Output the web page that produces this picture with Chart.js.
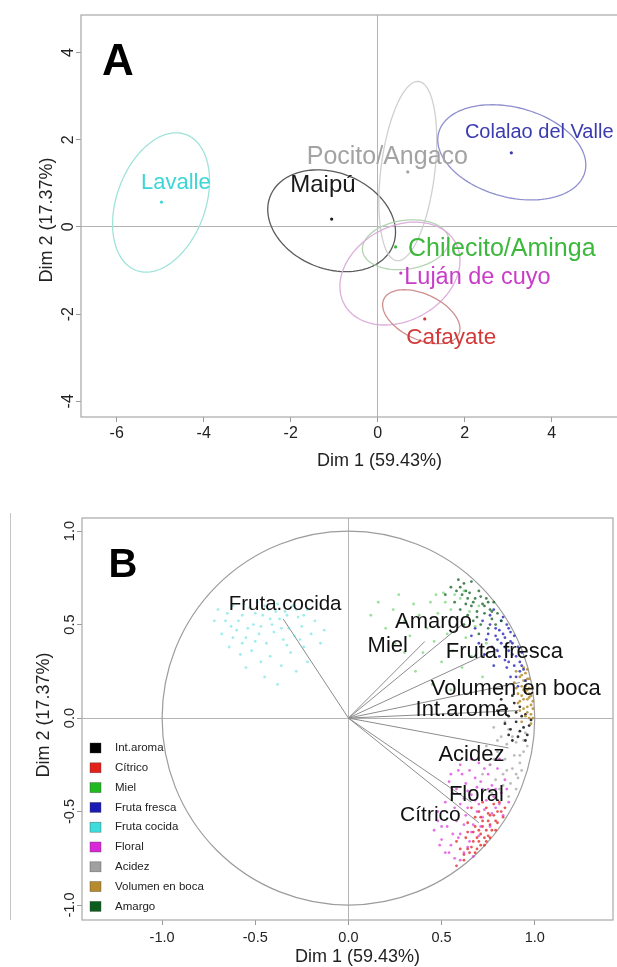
<!DOCTYPE html>
<html>
<head>
<meta charset="utf-8">
<script src="https://cdn.jsdelivr.net/npm/chart.js@4.4.0/dist/chart.umd.min.js"></script>
<style>
  html, body { margin: 0; padding: 0; background: #ffffff; width: 617px; height: 967px; overflow: hidden; }
  #ca { position: absolute; left: 0; top: 0; }
  #cb { position: absolute; left: 0; top: 480px; }
</style>
</head>
<body>
<canvas id="ca" width="700" height="480"></canvas>
<canvas id="cb" width="617" height="487"></canvas>
<script>
// ---------- Panel A: individuals (group means with confidence ellipses) ----------
const groups      = ['Lavalle', 'Maipú', 'Pocito/Angaco', 'Colalao del Valle', 'Chilecito/Aminga', 'Luján de cuyo', 'Cafayate'];
const groupX      = [-4.97, -1.06, 0.69, 3.07, 0.41, 0.53, 1.08];
const groupY      = [0.57, 0.18, 1.26, 1.70, -0.46, -1.06, -2.11];
// ellipse centre, semi-axes and tilt (degrees)
const ellCX       = [-4.98, -1.06, 0.69, 3.08, 0.64, 0.51, 1.00];
const ellCY       = [0.56, 0.14, 1.28, 1.71, -0.41, -1.07, -2.06];
const ellA        = [1.66, 1.52, 2.07, 1.74, 1.00, 1.46, 0.95];
const ellB        = [1.02, 1.10, 0.62, 1.03, 0.56, 1.08, 0.52];
const ellAngle    = [70, -22, 83, -15, 8, 29, -25];
// text anchor of each group name (centre of the word)
const groupLabelX = [-4.64, -1.26, 0.22, 3.71, 2.85, 2.29, 1.69];
const groupLabelY = [1.06, 0.99, 1.65, 2.20, -0.46, -1.12, -2.51];
const groupLabelSize = [22, 24, 25, 20, 25, 23.5, 22.5];
const groupColors   = ['#3dd6d6', '#1a1a1a', '#a3a3a3', '#3b3bb0', '#3cb83c', '#c83cc8', '#d23a3a'];
const ellipseColors = ['#9fe3da', '#5a5a5a', '#d0d0d0', '#8f8fcf', '#b3d3b3', '#dcaedc', '#cf8f8f'];
const ticksAx = [-6, -4, -2, 0, 2, 4];
const ticksAy = [-4, -2, 0, 2, 4];

// ---------- Panel B: variables factor map ----------
const variables = ['Int.aroma', 'Cítrico', 'Miel', 'Fruta fresca', 'Fruta cocida', 'Floral', 'Acidez', 'Volumen en boca', 'Amargo'];
const varColors = ['#000000', '#e3201c', '#22b822', '#1a1ab4', '#3fdcdc', '#d828d8', '#a0a0a0', '#b58b2c', '#0c5c1c'];
const arrowX    = [0.91, 0.70, 0.41, 0.80, -0.35, 0.66, 0.86, 0.92, 0.61];
const arrowY    = [0.04, -0.56, 0.41, 0.37, 0.53, -0.45, -0.16, 0.19, 0.50];
const varLabels = ['Int.aroma', 'Cítrico', 'Miel', 'Fruta fresca', 'Fruta.cocida', 'Floral', 'Acidez', 'Volumen en boca', 'Amargo'];
const varLabelX = [0.61, 0.44, 0.211, 0.837, -0.34, 0.687, 0.66, 0.898, 0.457];
const varLabelY = [0.053, -0.508, 0.398, 0.361, 0.615, -0.40, -0.187, 0.168, 0.524];
const varLabelSize = [22, 21, 22, 22, 20.5, 22, 22, 22, 22];
const ticksB = [-1, -0.5, 0, 0.5, 1];

// resampled coordinates of each variable (x, y pairs)
const cloudIntAroma = [0.82,0.10, 0.85,0.05, 0.88,0.12, 0.90,-0.02, 0.87,-0.06, 0.92,0.06, 0.94,-0.05, 0.96,-0.09, 0.84,-0.03,
  0.89,0.08, 0.91,-0.10, 0.97,-0.04, 0.86,0.01, 0.93,0.01, 0.95,-0.12, 0.80,0.04, 0.88,-0.12, 0.98,-0.01,
  0.90,0.03, 0.95,0.02, 0.86,-0.09, 0.92,-0.07];
const cloudCitrico = [0.66,-0.48, 0.70,-0.50, 0.74,-0.48, 0.78,-0.52, 0.82,-0.50, 0.64,-0.56, 0.68,-0.58, 0.72,-0.55, 0.76,-0.57,
  0.80,-0.56, 0.84,-0.48, 0.63,-0.64, 0.67,-0.66, 0.71,-0.62, 0.75,-0.63, 0.79,-0.60, 0.65,-0.72, 0.69,-0.70, 0.73,-0.68,
  0.76,-0.64, 0.62,-0.76, 0.58,-0.79, 0.68,-0.72, 0.74,-0.60, 0.72,-0.45, 0.81,-0.45, 0.60,-0.70, 0.78,-0.46, 0.68,-0.53,
  0.76,-0.52, 0.73,-0.64, 0.70,-0.66, 0.64,-0.70, 0.58,-0.66,
  0.71,-0.53, 0.75,-0.55, 0.79,-0.55, 0.67,-0.61, 0.72,-0.58, 0.77,-0.60, 0.69,-0.64, 0.74,-0.66, 0.66,-0.69, 0.62,-0.73,
  0.80,-0.50, 0.83,-0.53, 0.70,-0.60, 0.64,-0.61, 0.75,-0.51, 0.71,-0.68];
const cloudMiel = [0.12,0.55, 0.16,0.62, 0.20,0.48, 0.24,0.58, 0.27,0.66, 0.30,0.52, 0.33,0.44, 0.35,0.61, 0.38,0.55, 0.40,0.35,
  0.42,0.48, 0.44,0.62, 0.46,0.41, 0.48,0.56, 0.50,0.30, 0.51,0.67, 0.53,0.45, 0.55,0.58, 0.56,0.36, 0.58,0.50, 0.60,0.64,
  0.61,0.27, 0.63,0.43, 0.65,0.57, 0.66,0.33, 0.68,0.49, 0.70,0.60, 0.72,0.22, 0.74,0.40, 0.36,0.25, 0.45,0.18, 0.55,0.15,
  0.30,0.35, 0.25,0.40, 0.52,0.62, 0.62,0.68, 0.57,0.66, 0.47,0.66];
const cloudFrutaFresca = [0.68,0.48, 0.70,0.40, 0.72,0.52, 0.73,0.34, 0.75,0.45, 0.76,0.55, 0.77,0.38, 0.78,0.28, 0.79,0.48,
  0.80,0.42, 0.81,0.33, 0.82,0.52, 0.83,0.45, 0.84,0.38, 0.85,0.27, 0.86,0.48, 0.87,0.41, 0.88,0.34, 0.89,0.44, 0.90,0.22,
  0.91,0.38, 0.92,0.30, 0.93,0.35, 0.94,0.26, 0.95,0.20, 0.84,0.31, 0.80,0.36, 0.74,0.42, 0.87,0.22, 0.83,0.54, 0.66,0.44,
  0.78,0.58, 0.91,0.17, 0.86,0.36, 0.89,0.28,
  0.76,0.50, 0.79,0.44, 0.81,0.47, 0.84,0.43, 0.86,0.30, 0.88,0.40, 0.90,0.33, 0.92,0.25, 0.82,0.40, 0.85,0.50, 0.87,0.46, 0.93,0.28];
const cloudFrutaCocida = [-0.70,0.58, -0.66,0.52, -0.62,0.60, -0.60,0.47, -0.57,0.55, -0.55,0.43, -0.53,0.59, -0.51,0.50,
  -0.49,0.62, -0.48,0.45, -0.46,0.55, -0.44,0.40, -0.43,0.58, -0.41,0.50, -0.40,0.46, -0.38,0.61, -0.37,0.53, -0.35,0.42,
  -0.34,0.57, -0.32,0.48, -0.30,0.60, -0.29,0.44, -0.27,0.54, -0.25,0.49, -0.24,0.38, -0.22,0.58, -0.20,0.45, -0.18,0.52,
  -0.15,0.40, -0.13,0.47, -0.68,0.45, -0.64,0.38, -0.58,0.34, -0.52,0.36, -0.47,0.30, -0.42,0.33, -0.36,0.28, -0.31,0.35,
  -0.28,0.25, -0.45,0.22, -0.55,0.27, -0.38,0.18, -0.22,0.30, -0.72,0.52, -0.62,0.43, -0.50,0.41, -0.33,0.39, -0.26,0.42,
  -0.65,0.56, -0.59,0.52, -0.56,0.61, -0.50,0.56, -0.45,0.60, -0.42,0.53, -0.39,0.57, -0.33,0.55, -0.28,0.58, -0.24,0.55,
  -0.63,0.49, -0.54,0.48, -0.47,0.49, -0.36,0.48, -0.57,0.40];
const cloudFloral = [0.55,-0.30, 0.60,-0.25, 0.65,-0.28, 0.70,-0.24, 0.75,-0.30, 0.80,-0.27, 0.84,-0.33, 0.58,-0.38, 0.63,-0.35,
  0.68,-0.32, 0.72,-0.38, 0.77,-0.36, 0.82,-0.40, 0.86,-0.45, 0.52,-0.45, 0.57,-0.48, 0.62,-0.43, 0.66,-0.41, 0.70,-0.46,
  0.74,-0.44, 0.79,-0.48, 0.83,-0.52, 0.48,-0.55, 0.53,-0.58, 0.58,-0.55, 0.63,-0.52, 0.67,-0.57, 0.72,-0.53, 0.76,-0.58,
  0.50,-0.65, 0.55,-0.68, 0.60,-0.62, 0.65,-0.66, 0.70,-0.63, 0.57,-0.75, 0.62,-0.72, 0.67,-0.74, 0.46,-0.60, 0.52,-0.72,
  0.81,-0.22, 0.73,-0.27, 0.64,-0.48, 0.69,-0.50, 0.59,-0.64, 0.56,-0.40, 0.48,-0.50, 0.78,-0.42, 0.61,-0.30,
  0.54,-0.34, 0.59,-0.28, 0.66,-0.22, 0.71,-0.34, 0.76,-0.25, 0.79,-0.38, 0.85,-0.38, 0.60,-0.46, 0.68,-0.44, 0.73,-0.49,
  0.77,-0.51, 0.81,-0.46, 0.50,-0.58, 0.56,-0.62, 0.62,-0.57, 0.66,-0.61, 0.71,-0.58, 0.54,-0.72, 0.60,-0.76, 0.64,-0.69,
  0.49,-0.68, 0.75,-0.38, 0.69,-0.37, 0.64,-0.39];
const cloudAcidez = [0.78,-0.05, 0.82,-0.10, 0.86,-0.06, 0.90,-0.13, 0.94,-0.18, 0.80,-0.18, 0.84,-0.22, 0.88,-0.27, 0.92,-0.24,
  0.76,-0.25, 0.83,-0.30, 0.87,-0.35, 0.91,-0.32, 0.79,-0.33, 0.85,-0.14, 0.95,-0.08, 0.89,-0.20, 0.74,-0.15, 0.81,-0.38,
  0.86,-0.42, 0.93,-0.28, 0.77,-0.40, 0.96,-0.15, 0.90,-0.38, 0.84,-0.02, 0.72,-0.30,
  0.80,-0.12, 0.88,-0.10, 0.92,-0.20, 0.85,-0.28, 0.78,-0.22, 0.90,-0.30, 0.83,-0.36, 0.94,-0.12];
const cloudVolumen = [0.90,0.25, 0.92,0.22, 0.94,0.27, 0.95,0.20, 0.93,0.17, 0.96,0.15, 0.97,0.21, 0.91,0.13, 0.94,0.10, 0.98,0.12,
  0.96,0.06, 0.92,0.04, 0.99,0.05, 0.95,0.01, 0.97,0.00, 0.93,-0.02, 0.98,-0.03, 0.89,0.19, 0.95,0.24, 0.96,0.10, 0.99,0.09,
  0.94,0.05, 0.97,0.16, 0.91,0.08, 0.98,0.02, 0.93,0.12, 0.95,0.14, 0.90,0.16, 0.96,0.26, 0.99,0.00,
  0.93,0.23, 0.95,0.17, 0.96,0.21, 0.97,0.11, 0.94,0.15, 0.98,0.07, 0.96,0.03, 0.94,0.20, 0.97,0.13, 0.92,0.09];
const cloudAmargo = [0.52,0.66, 0.55,0.70, 0.57,0.62, 0.58,0.68, 0.60,0.58, 0.61,0.66, 0.62,0.72, 0.63,0.61, 0.64,0.55, 0.65,0.67,
  0.66,0.60, 0.67,0.52, 0.68,0.64, 0.69,0.57, 0.70,0.68, 0.71,0.50, 0.72,0.61, 0.73,0.56, 0.74,0.64, 0.75,0.48, 0.76,0.58,
  0.77,0.53, 0.78,0.62, 0.79,0.50, 0.80,0.56, 0.70,0.45, 0.62,0.50, 0.59,0.74, 0.66,0.73, 0.82,0.52,
  0.63,0.68, 0.67,0.62, 0.71,0.65, 0.73,0.60, 0.75,0.62, 0.69,0.54, 0.64,0.64, 0.77,0.57, 0.60,0.70];
// same order as `variables`
const clouds = [cloudIntAroma, cloudCitrico, cloudMiel, cloudFrutaFresca, cloudFrutaCocida, cloudFloral, cloudAcidez, cloudVolumen, cloudAmargo];
const cloudAlpha = [0.8, 0.75, 0.45, 0.75, 0.5, 0.65, 0.7, 0.85, 0.75];
const cloudDrawOrder = [4, 2, 8, 3, 7, 0, 6, 5, 1];

const FONT = '"Liberation Sans", Arial, Helvetica, sans-serif';

function hexToRgba(hex, a) {
  const n = parseInt(hex.slice(1), 16);
  return `rgba(${(n >> 16) & 255},${(n >> 8) & 255},${n & 255},${a})`;
}
function pairs(flat) {
  const out = [];
  for (let i = 0; i < flat.length; i += 2) out.push({ x: flat[i], y: flat[i + 1] });
  return out;
}
function centeredText(ctx, text, x, yMid, size, color, weight) {
  ctx.font = `${weight || 'normal'} ${size}px ${FONT}`;
  ctx.fillStyle = color;
  ctx.textAlign = 'center';
  ctx.textBaseline = 'alphabetic';
  ctx.fillText(text, x, yMid + size * 0.36);
}
function rotatedText(ctx, text, x, y, size, color) {
  ctx.save();
  ctx.translate(x, y);
  ctx.rotate(-Math.PI / 2);
  ctx.font = `${size}px ${FONT}`;
  ctx.fillStyle = color;
  ctx.textAlign = 'center';
  ctx.textBaseline = 'middle';
  ctx.fillText(text, 0, 0);
  ctx.restore();
}
function drawBox(ctx, ca, color) {
  ctx.save();
  ctx.strokeStyle = color;
  ctx.lineWidth = 1.2;
  ctx.strokeRect(ca.left, ca.top, ca.right - ca.left, ca.bottom - ca.top);
  ctx.restore();
}
function zeroGrid(c) {
  return c.tick && c.tick.value === 0 ? '#b4b4b4' : 'rgba(0,0,0,0)';
}

// ---- panel A decorations: ellipses, names, box, rotated y ticks, titles ----
const panelA = {
  id: 'panelA',
  beforeDatasetsDraw(chart) {
    const { ctx, chartArea: ca, scales: { x, y } } = chart;
    ctx.save();
    ctx.beginPath();
    ctx.rect(ca.left, ca.top, ca.right - ca.left, ca.bottom - ca.top);
    ctx.clip();
    groups.forEach((g, i) => {
      const phi = ellAngle[i] * Math.PI / 180;
      ctx.beginPath();
      for (let k = 0; k <= 120; k++) {
        const t = k / 120 * 2 * Math.PI;
        const ex = ellCX[i] + ellA[i] * Math.cos(t) * Math.cos(phi) - ellB[i] * Math.sin(t) * Math.sin(phi);
        const ey = ellCY[i] + ellA[i] * Math.cos(t) * Math.sin(phi) + ellB[i] * Math.sin(t) * Math.cos(phi);
        const px = x.getPixelForValue(ex), py = y.getPixelForValue(ey);
        if (k === 0) ctx.moveTo(px, py); else ctx.lineTo(px, py);
      }
      ctx.closePath();
      ctx.strokeStyle = ellipseColors[i];
      ctx.lineWidth = 1.3;
      ctx.stroke();
    });
    ctx.restore();
  },
  afterDraw(chart) {
    const { ctx, chartArea: ca, scales: { x, y } } = chart;
    ctx.save();
    groups.forEach((g, i) => {
      centeredText(ctx, g, x.getPixelForValue(groupLabelX[i]), y.getPixelForValue(groupLabelY[i]),
        groupLabelSize[i], groupColors[i]);
    });
    drawBox(ctx, ca, '#a8a8a8');
    y.ticks.forEach(t => rotatedText(ctx, String(t.value), ca.left - 12, y.getPixelForValue(t.value), 16, '#222'));
    centeredText(ctx, 'Dim 1 (59.43%)', (ca.left + ca.right) / 2, ca.bottom + 43, 18, '#222');
    rotatedText(ctx, 'Dim 2 (17.37%)', ca.left - 34, (ca.top + ca.bottom) / 2 + 4, 18, '#222');
    centeredText(ctx, 'A', ca.left + 37, ca.top + 44, 44, '#000', 'bold');
    ctx.restore();
  }
};

// ---- panel B decorations: unit circle, names, legend, box, titles ----
const panelB = {
  id: 'panelB',
  beforeDatasetsDraw(chart) {
    const { ctx, scales: { x, y } } = chart;
    ctx.save();
    const cx = x.getPixelForValue(0), cy = y.getPixelForValue(0);
    const rx = x.getPixelForValue(1) - cx, ry = cy - y.getPixelForValue(1);
    ctx.beginPath();
    ctx.ellipse(cx, cy, rx, ry, 0, 0, 2 * Math.PI);
    ctx.strokeStyle = '#9c9c9c';
    ctx.lineWidth = 1.2;
    ctx.stroke();
    ctx.restore();
  },
  afterDraw(chart) {
    const { ctx, chartArea: ca, scales: { x, y } } = chart;
    ctx.save();
    varLabels.forEach((v, i) => {
      centeredText(ctx, v, x.getPixelForValue(varLabelX[i]), y.getPixelForValue(varLabelY[i]), varLabelSize[i], '#111');
    });
    // legend
    variables.forEach((v, i) => {
      const yy = ca.top + 230 + i * 19.8;
      ctx.fillStyle = varColors[i];
      ctx.fillRect(ca.left + 8, yy - 5, 11, 10);
      ctx.strokeStyle = 'rgba(60,60,60,0.6)';
      ctx.lineWidth = 0.6;
      ctx.strokeRect(ca.left + 8, yy - 5, 11, 10);
      ctx.font = `11.5px ${FONT}`;
      ctx.fillStyle = '#222';
      ctx.textAlign = 'left';
      ctx.textBaseline = 'middle';
      ctx.fillText(v, ca.left + 33, yy);
    });
    drawBox(ctx, ca, '#a8a8a8');
    y.ticks.forEach(t => rotatedText(ctx, t.value.toFixed(1), ca.left - 12, y.getPixelForValue(t.value), 14.5, '#222'));
    centeredText(ctx, 'Dim 1 (59.43%)', (ca.left + ca.right) / 2 + 10, ca.bottom + 36, 18, '#222');
    rotatedText(ctx, 'Dim 2 (17.37%)', ca.left - 38, (ca.top + ca.bottom) / 2 - 4, 18, '#222');
    centeredText(ctx, 'B', ca.left + 41, ca.top + 45, 40, '#000', 'bold');
    // thin rule at the left margin
    ctx.strokeStyle = '#c4c4c4';
    ctx.lineWidth = 1;
    ctx.beginPath();
    ctx.moveTo(10.5, ca.top - 5);
    ctx.lineTo(10.5, ca.bottom);
    ctx.stroke();
    ctx.restore();
  }
};

function axisOptions(min, max, tickValues, size, fmt, isX, fitSize, pad) {
  return {
    type: 'linear', min: min, max: max,
    afterBuildTicks: s => { s.ticks = tickValues.map(v => ({ value: v })); },
    afterFit: s => { if (isX) s.height = fitSize; else s.width = fitSize; },
    border: { display: false },
    grid: { color: zeroGrid, lineWidth: 1, tickColor: '#9a9a9a', tickLength: 5, drawTicks: true },
    ticks: isX
      ? { display: true, color: '#222', font: { family: FONT, size: size }, padding: pad, maxRotation: 0, autoSkip: false, callback: fmt }
      : { display: false }
  };
}

new Chart(document.getElementById('ca'), {
  type: 'scatter',
  data: {
    datasets: groups.map((g, i) => ({
      label: g,
      data: [{ x: groupX[i], y: groupY[i] }],
      backgroundColor: groupColors[i],
      borderColor: groupColors[i],
      pointRadius: 1.6,
      pointBorderWidth: 0
    }))
  },
  options: {
    responsive: false, animation: false, devicePixelRatio: 1,
    layout: { padding: { left: 0, top: 15, right: 22, bottom: 0 } },
    plugins: { legend: { display: false }, tooltip: { enabled: false } },
    scales: {
      x: axisOptions(-6.82, 6.9, ticksAx, 16, v => String(v), true, 63, 2),
      y: axisOptions(-4.36, 4.86, ticksAy, 16, v => String(v), false, 81, 0)
    }
  },
  plugins: [panelA]
});

const cloudSets = cloudDrawOrder.map(i => ({
  label: variables[i],
  data: pairs(clouds[i]),
  backgroundColor: hexToRgba(varColors[i], cloudAlpha[i]),
  borderWidth: 0,
  pointRadius: 1.4
}));
const arrowSets = variables.map((v, i) => ({
  label: v + ' arrow',
  data: [{ x: 0, y: 0 }, { x: arrowX[i], y: arrowY[i] }],
  showLine: true,
  borderColor: '#8c8c8c',
  borderWidth: 1,
  pointRadius: 0
}));

new Chart(document.getElementById('cb'), {
  type: 'scatter',
  data: { datasets: cloudSets.concat(arrowSets) },
  options: {
    responsive: false, animation: false, devicePixelRatio: 1,
    layout: { padding: { left: 0, top: 38, right: 2, bottom: 0 } },
    plugins: { legend: { display: false }, tooltip: { enabled: false } },
    scales: {
      x: axisOptions(-1.43, 1.42, ticksB, 14.5, v => v.toFixed(1), true, 47, 4),
      y: axisOptions(-1.08, 1.07, ticksB, 14.5, v => v.toFixed(1), false, 82, 0)
    }
  },
  plugins: [panelB]
});
</script>
</body>
</html>
